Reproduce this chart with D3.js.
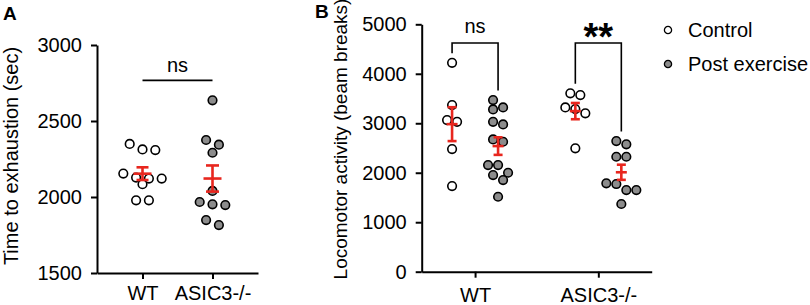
<!DOCTYPE html>
<html>
<head>
<meta charset="utf-8">
<script src="https://cdn.jsdelivr.net/npm/d3@7"></script>
<style>
body{margin:0;background:#fff;}
svg{display:block;font-family:Arial,"Liberation Sans",Helvetica,sans-serif;}
</style>
</head>
<body>
<div id="chart"></div>
<script>
// panel A : time to exhaustion
var groupsA = ['WT', 'ASIC3-/-'];
var wtA = [2349, 2313, 2309, 2154, 2128, 2121, 2121, 2084, 1978, 1978];
var asicA = [2636, 2375, 2344, 2291, 2040, 1967, 1952, 1947, 1848, 1815];
var ticksA = [1500, 2000, 2500, 3000];

// panel B : locomotor activity
var groupsB = ['WT', 'ASIC3-/-'];
var seriesB = ['Control', 'Post exercise'];
var wtCtrlB = [4222, 3367, 3064, 3030, 2478, 1731];
var wtPostB = [3468, 3321, 3280, 3030, 2977, 2674, 2626, 2155, 2155, 2000, 1953, 1852, 1515];
var asicCtrlB = [3604, 3569, 3321, 3287, 3200, 2493];
var asicPostB = [2640, 2574, 2323, 2323, 1786, 1772, 1650, 1650, 1368];
var ticksB = [0, 1000, 2000, 3000, 4000, 5000];
var sigB = ['ns', '**'];

var red = '#e8261e';
var grey = '#8c8c8c';
var fs = '20px';

var svg = d3.select('#chart')
    .append('svg')
    .attr('width', 810)
    .attr('height', 305);

// simple row based beeswarm, like the prism layout
function swarm(vals, yscale, step, minDist) {
    var pts = vals.map(function (v) { return {v: v, y: yscale(v)}; })
        .sort(function (a, b) { return a.y - b.y; });
    var placed = [];
    var i = 0;
    while (i < pts.length) {
        var row = [pts[i]], j = i + 1;
        while (j < pts.length && pts[j].y - pts[i].y < step * 0.8) { row.push(pts[j]); j++; }
        row.forEach(function (p, k) {
            var target = (k - (row.length - 1) / 2) * step;
            p.dx = target;
            for (var n = 0; n < 40; n++) {
                var off = target + (n % 2 ? -1 : 1) * Math.ceil(n / 2) * step / 2;
                var ok = placed.every(function (q) {
                    return Math.hypot(q.dx - off, q.y - p.y) >= minDist;
                });
                if (ok) { p.dx = off; break; }
            }
            placed.push(p);
        });
        i = j;
    }
    return placed;
}

function styleAxis(g) {
    g.select('.domain').attr('stroke', '#000').attr('stroke-width', 2);
    g.selectAll('.tick line').attr('stroke', '#000').attr('stroke-width', 2);
    g.selectAll('.tick text').attr('fill', '#000').style('font-size', fs);
}

function drawGroup(g, vals, cx, yscale, step, fill, meanW, capW) {
    var pts = swarm(vals, yscale, step, 8);
    g.append('g').selectAll('circle')
        .data(pts)
        .enter()
        .append('circle')
        .attr('cx', function (d) { return cx + d.dx; })
        .attr('cy', function (d) { return d.y; })
        .attr('r', 4.3)
        .attr('fill', fill)
        .attr('stroke', '#000')
        .attr('stroke-width', 1.6);
    var m = d3.mean(vals);
    var sem = d3.deviation(vals) / Math.sqrt(vals.length);
    var eb = g.append('g').attr('stroke', red).attr('stroke-width', 2.6);
    eb.append('line').attr('x1', cx).attr('x2', cx).attr('y1', yscale(m + sem)).attr('y2', yscale(m - sem));
    eb.append('line').attr('x1', cx - meanW / 2).attr('x2', cx + meanW / 2).attr('y1', yscale(m)).attr('y2', yscale(m));
    [m + sem, m - sem].forEach(function (v) {
        eb.append('line').attr('x1', cx - capW / 2).attr('x2', cx + capW / 2).attr('y1', yscale(v)).attr('y2', yscale(v));
    });
}

// ---------- panel A ----------
var yA = d3.scaleLinear().domain([1500, 3000]).range([273, 45]);
var xA = d3.scalePoint().domain(groupsA).range([97, 258]).padding(0.65);

var gA = svg.append('g');
gA.append('g')
    .attr('transform', 'translate(0,273)')
    .call(d3.axisBottom(xA).tickSize(6).tickSizeOuter(0).tickPadding(7))
    .call(styleAxis);
gA.append('g')
    .attr('transform', 'translate(97,0)')
    .call(d3.axisLeft(yA).tickValues(ticksA).tickFormat(d3.format('d')).tickSize(6).tickSizeOuter(0).tickPadding(9))
    .call(styleAxis);

drawGroup(gA, wtA, xA('WT'), yA, 12.8, '#fff', 18, 12);
drawGroup(gA, asicA, xA('ASIC3-/-'), yA, 12.8, grey, 18, 13);

var nsY = yA(d3.max(wtA.concat(asicA))) - 20;
gA.append('line')
    .attr('x1', xA('WT')).attr('x2', xA('ASIC3-/-'))
    .attr('y1', nsY).attr('y2', nsY)
    .attr('stroke', '#000').attr('stroke-width', 1.8);
gA.append('text')
    .attr('x', (xA('WT') + xA('ASIC3-/-')) / 2)
    .attr('y', nsY - 8)
    .attr('text-anchor', 'middle')
    .style('font-size', fs)
    .text('ns');

gA.append('text')
    .attr('transform', 'translate(18,' + 156 + ') rotate(-90)')
    .attr('text-anchor', 'middle')
    .style('font-size', fs)
    .text('Time to exhaustion (sec)');
gA.append('text')
    .attr('x', 3).attr('y', 20)
    .style('font-size', '19px').style('font-weight', 'bold')
    .text('A');

// ---------- panel B ----------
var yB = d3.scaleLinear().domain([0, 5000]).range([271.7, 24.3]);
var xB = d3.scalePoint().domain(groupsB).range([421.7, 651.7]).padding(0.433);
var subB = d3.scaleBand().domain(seriesB).range([-46, 46]);
var subX = function (s) { return subB(s) + subB.bandwidth() / 2; };

var gB = svg.append('g');
gB.append('g')
    .attr('transform', 'translate(0,271.7)')
    .call(d3.axisBottom(xB).tickSize(6).tickSizeOuter(0).tickPadding(10))
    .call(styleAxis);
gB.append('g')
    .attr('transform', 'translate(421.7,0)')
    .call(d3.axisLeft(yB).tickValues(ticksB).tickFormat(d3.format('d')).tickSize(6).tickSizeOuter(0).tickPadding(9))
    .call(styleAxis);

var dataB = [[wtCtrlB, wtPostB], [asicCtrlB, asicPostB]];
groupsB.forEach(function (grp, gi) {
    var cx = xB(grp);
    drawGroup(gB, dataB[gi][0], cx + subX('Control'), yB, 10, '#fff', 11, 9);
    drawGroup(gB, dataB[gi][1], cx + subX('Post exercise'), yB, 10, grey, 11, 9);

    // significance bracket
    var top = 43;
    var lx = cx + subX('Control'), rx = cx + subX('Post exercise');
    var ly = yB(d3.max(dataB[gi][0])) - 9.5;
    var ry = yB(d3.max(dataB[gi][1])) - 9.5;
    gB.append('path')
        .attr('d', 'M' + lx + ',' + ly + 'V' + top + 'H' + rx + 'V' + ry)
        .attr('fill', 'none')
        .attr('stroke', '#000')
        .attr('stroke-width', 1.6);
    var lab = gB.append('text')
        .attr('x', cx)
        .attr('text-anchor', 'middle')
        .text(sigB[gi]);
    if (sigB[gi] === 'ns') {
        lab.attr('y', top - 10).style('font-size', fs);
    } else {
        lab.attr('y', top + 7).style('font-size', '38px').style('font-weight', 'bold');
    }
});

gB.append('text')
    .attr('transform', 'translate(347,' + 139 + ') rotate(-90)')
    .attr('text-anchor', 'middle')
    .style('font-size', '19px')
    .text('Locomotor activity (beam breaks)');
gB.append('text')
    .attr('x', 315).attr('y', 18)
    .style('font-size', '19px').style('font-weight', 'bold')
    .text('B');

// legend
var legend = svg.append('g').attr('transform', 'translate(668,30)');
legend.selectAll('g')
    .data(seriesB)
    .enter()
    .append('g')
    .attr('transform', function (d, i) { return 'translate(0,' + i * 34 + ')'; })
    .each(function (d, i) {
        var g = d3.select(this);
        g.append('circle')
            .attr('r', 3.6)
            .attr('fill', i === 0 ? '#fff' : grey)
            .attr('stroke', '#000')
            .attr('stroke-width', 1.3);
        g.append('text')
            .attr('x', 20)
            .attr('y', 7)
            .style('font-size', fs)
            .text(d);
    });
</script>
</body>
</html>
